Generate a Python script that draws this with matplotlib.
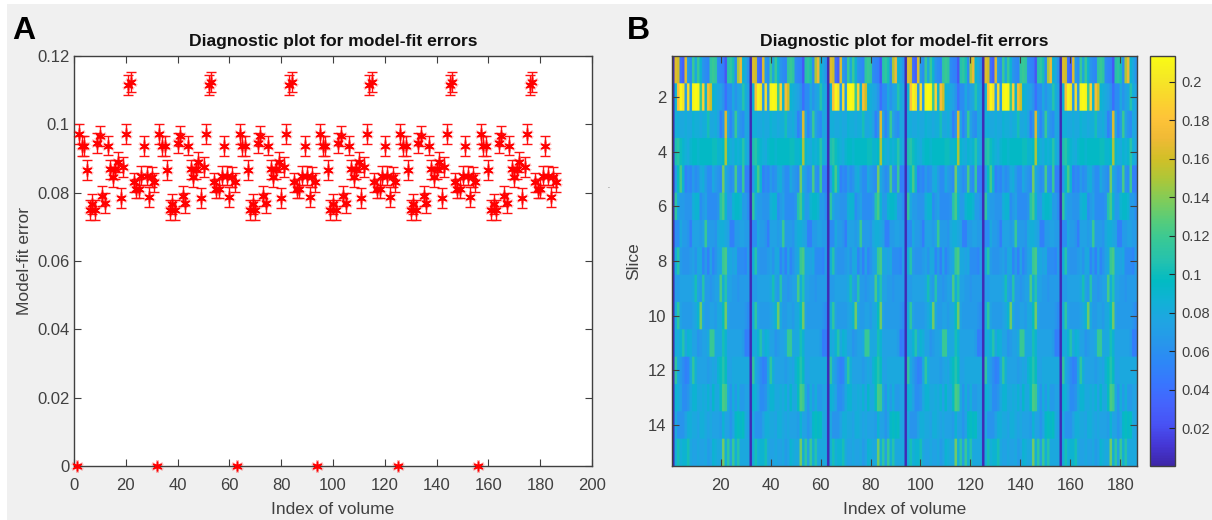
import numpy as np
import matplotlib
matplotlib.use("Agg")
import matplotlib.pyplot as plt
from matplotlib.colors import LinearSegmentedColormap
from matplotlib.patches import Rectangle

plt.rcParams['font.family'] = ['Liberation Sans', 'DejaVu Sans']

W, H = 1212, 520
TITLE = "Diagnostic plot for model-fit errors"
XLABEL = "Index of volume"

# Panel A: one acquisition cycle of 31 volumes (repeats 6 times)
cycle_err = [0.0, .0971, .0937, .0937, .0867, .0750, .0768, .0750, .0945, .0965,
             .0790, .0770, .0938, .0868, .0847, .0868, .0890, .0785, .0875, .0972,
             .1115, .1125, .0830, .0812, .0812, .0850, .0937, .0850, .0788, .0845, .0830]
n_cycles = 6
err_halfwidth = 0.0029

# Panel B: slice x volume errors for one cycle
s1 = [.004,.165,.16,.04,.03,.165,.068,.058,.118,.078,.118,.088,.063,.058,.053,.113,.118,.113,.058,.053,.05,.025,.108,.113,.103,.058,.15,.17,.088,.078,.063]
s2 = [.004,.088,.18,.21,.2,.068,.195,.068,.21,.213,.21,.118,.19,.088,.175,.16,.088,.083,.078,.073,.063,.04,.058,.058,.078,.063,.073,.078,.108,.083,.073]
s3 = [.004,.083,.083,.078,.078,.083,.078,.078,.088,.083,.083,.078,.083,.083,.103,.078,.078,.083,.073,.05,.063,.165,.073,.053,.068,.118,.073,.063,.058,.078,.073]
s4 = [.004,.105,.11,.10,.09,.085,.08,.09,.095,.095,.09,.095,.095,.095,.095,.095,.10,.10,.09,.09,.095,.15,.09,.085,.08,.09,.085,.09,.11,.085,.075]
s5 = [.004,.068,.098,.123,.088,.05,.058,.053,.068,.058,.063,.078,.083,.068,.058,.058,.078,.068,.063,.058,.135,.078,.068,.058,.063,.123,.063,.058,.118,.05,.05]
s6 = [.004,.113,.078,.068,.068,.063,.063,.063,.083,.088,.088,.058,.068,.073,.058,.058,.058,.058,.063,.108,.123,.088,.068,.068,.088,.093,.093,.088,.068,.068,.058]
s7 = [.004,.058,.058,.078,.068,.068,.063,.048,.073,.073,.073,.068,.073,.118,.068,.068,.068,.063,.078,.083,.083,.078,.073,.05,.05,.068,.068,.073,.073,.068,.068]
s8 = [.004,.083,.108,.068,.063,.063,.063,.068,.073,.063,.078,.078,.053,.068,.05,.073,.053,.063,.073,.078,.118,.123,.078,.078,.073,.078,.058,.058,.058,.053,.068]
s9 = [.004,.068,.068,.073,.073,.073,.073,.073,.078,.103,.073,.068,.108,.068,.068,.063,.068,.073,.073,.123,.083,.108,.073,.073,.068,.068,.063,.068,.068,.068,.068]
s10 = [.004,.083,.113,.073,.068,.068,.068,.068,.073,.078,.088,.135,.078,.068,.068,.073,.073,.068,.078,.078,.098,.135,.073,.068,.068,.068,.068,.068,.068,.063,.058]
s11 = [.004,.083,.078,.088,.108,.078,.088,.083,.073,.073,.063,.068,.073,.073,.078,.118,.118,.078,.078,.078,.103,.088,.073,.073,.073,.073,.073,.073,.068,.048,.05]
s12 = [.004,.113,.078,.068,.058,.05,.053,.078,.113,.083,.073,.073,.073,.073,.068,.073,.078,.073,.088,.098,.108,.098,.073,.073,.078,.078,.078,.078,.078,.078,.078]
s13 = [.004,.088,.083,.073,.058,.058,.063,.078,.088,.088,.078,.078,.083,.078,.088,.073,.093,.078,.078,.098,.125,.12,.078,.063,.083,.068,.083,.068,.068,.073,.073]
s14 = [.004,.078,.063,.063,.063,.073,.083,.083,.078,.078,.073,.083,.083,.078,.073,.078,.073,.073,.073,.068,.088,.073,.073,.063,.073,.093,.098,.093,.098,.078,.073]
s15 = [.004,.083,.103,.083,.088,.088,.103,.078,.073,.073,.078,.073,.073,.078,.068,.073,.088,.083,.078,.078,.135,.083,.113,.073,.118,.083,.108,.078,.078,.078,.078]
slices = [s1, s2, s3, s4, s5, s6, s7, s8, s9, s10, s11, s12, s13, s14, s15]

clim = (0.0005, 0.2135)
cbar_ticks = [0.02, 0.04, 0.06, 0.08, 0.10, 0.12, 0.14, 0.16, 0.18, 0.20]
cbar_labels = ['0.02', '0.04', '0.06', '0.08', '0.1', '0.12', '0.14', '0.16', '0.18', '0.2']

parula = LinearSegmentedColormap.from_list("parula", [
    (0.2422,0.1504,0.6603),(0.2706,0.2147,0.8364),(0.2810,0.3228,0.9579),(0.2699,0.3892,0.9906),
    (0.2206,0.4603,0.9973),(0.1786,0.5289,0.9682),(0.1540,0.5902,0.9218),(0.1248,0.6459,0.8883),
    (0.0689,0.6948,0.8394),(0.0067,0.7312,0.7660),(0.1408,0.7584,0.6842),(0.2161,0.7843,0.5923),
    (0.3406,0.8008,0.4789),(0.5044,0.7993,0.3480),(0.6720,0.7793,0.2227),(0.8203,0.7498,0.1535),
    (0.9393,0.7288,0.2100),(0.9970,0.7659,0.2199),(0.9786,0.8386,0.1766),(0.9597,0.9135,0.1423),
    (0.9769,0.9839,0.0805)], N=256)

GREY = '#404040'
DARK = '#262626'
PANEL = '#f0f0f0'

fig = plt.figure(figsize=(W/100, H/100), dpi=100, facecolor='white')
fig.add_artist(Rectangle((7/W, 0), (W-7)/W, (H-4)/H, transform=fig.transFigure,
                         facecolor=PANEL, edgecolor='none', zorder=-10))


def box(l, t, r, b):
    return fig.add_axes([l/W, 1-b/H, (r-l)/W, (b-t)/H])


def style(ax, ypad):
    ax.tick_params(which='both', direction='in', length=5, width=0.8, color=GREY,
                   labelcolor=GREY, labelsize=12, top=True, right=True)
    ax.tick_params(axis='x', pad=9)
    ax.tick_params(axis='y', pad=ypad)
    for sp in ax.spines.values():
        sp.set_color(GREY)
        sp.set_linewidth(1.0)


# ---- Panel A
vol = np.arange(1, len(cycle_err)*n_cycles + 1)
err = np.array(cycle_err * n_cycles)
yerr = np.where(err > 0, err_halfwidth, 0.0)
axA = box(74, 56, 592, 466)
axA.errorbar(vol, err, yerr=yerr, fmt='none', ecolor='#ff1010', elinewidth=1.0, capsize=3.6,
             capthick=1.0, zorder=2)
axA.plot(vol, err, linestyle='none', marker=(6, 2, 0), ms=9, mew=1.8, color='#ff0000', alpha=0.25,
         clip_on=False, zorder=3)
axA.plot(vol, err, linestyle='none', marker=(6, 2, 0), ms=7, mew=1.0, color='#ff0000',
         clip_on=False, zorder=3)
axA.plot(vol, err, linestyle='none', marker='o', ms=2.5, color='#ff0000', clip_on=False, zorder=3)
axA.set_xlim(0, 200)
axA.set_ylim(0, 0.12)
axA.set_xticks(np.arange(0, 201, 20))
axA.set_yticks([0, 0.02, 0.04, 0.06, 0.08, 0.1, 0.12])
axA.set_yticklabels(['0', '0.02', '0.04', '0.06', '0.08', '0.1', '0.12'])
style(axA, 3)
axA.set_facecolor('white')
axA.set_xlabel(XLABEL, fontsize=12.5, color=GREY, labelpad=6)
axA.set_ylabel("Model-fit error", fontsize=12.5, color=GREY, labelpad=4)
axA.set_title(TITLE, fontsize=12.6, fontweight='bold', color='#111111', pad=7)

# ---- Panel B
heat = np.tile(np.array(slices), (1, n_cycles))
axB = box(672, 56, 1136.5, 466)
im = axB.imshow(np.repeat(np.repeat(heat, 20, axis=0), 4, axis=1), cmap=parula, vmin=clim[0], vmax=clim[1],
                aspect='auto', interpolation='hanning', interpolation_stage='rgba',
                extent=(0.5, 186.5, 15.5, 0.5))
axB.set_xticks(np.arange(20, 181, 20))
axB.set_yticks(np.arange(2, 15, 2))
style(axB, 4)
axB.set_xlabel(XLABEL, fontsize=12.5, color=GREY, labelpad=6)
axB.set_ylabel("Slice", fontsize=12.5, color=GREY, labelpad=5)
axB.set_title(TITLE, fontsize=12.6, fontweight='bold', color='#111111', pad=7)

cax = box(1149.5, 56, 1174.5, 466)
cb = fig.colorbar(im, cax=cax)
cb.set_ticks(cbar_ticks)
cb.set_ticklabels(cbar_labels)
cb.ax.tick_params(direction='in', length=4, width=0.8, color=DARK, labelcolor=GREY, labelsize=10.5, pad=5)
cb.outline.set_edgecolor(GREY)
cb.outline.set_linewidth(1.0)

# ---- Panel letters and stray dot
fig.text(12/W, 1-39/H, "A", fontsize=23, fontweight='bold', color='black', va='baseline')
fig.text(627/W, 1-39/H, "B", fontsize=23, fontweight='bold', color='black', va='baseline')
fig.text(607.5/W, 1-188/H, ".", fontsize=5, color=GREY)

fig.savefig("out.png", dpi=100, facecolor=fig.get_facecolor())
